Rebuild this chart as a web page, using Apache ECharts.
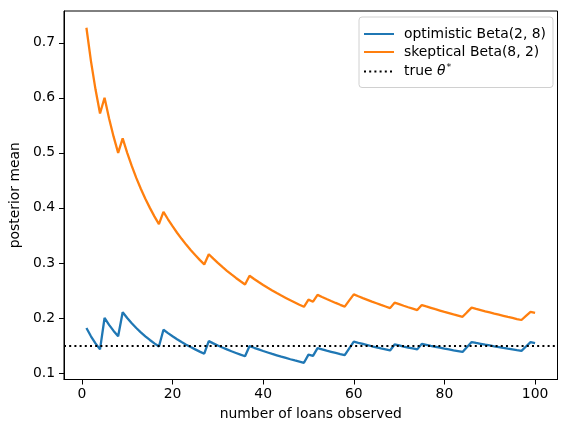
<!DOCTYPE html>
<html><head><meta charset="utf-8">
<script src="https://cdn.jsdelivr.net/npm/echarts@6/dist/echarts.min.js"></script>
<style>html,body{margin:0;padding:0;background:#fff}#c{width:567px;height:433px}</style>
</head><body><div id="c"></div>
<script>
const loans = Array.from({length:100},(_,i)=>i+1);
const optimistic = [
.1818,.1667,.1538,.1429,
.2000,.1875,.1765,.1667,
.2105,.2000,.1905,.1818,.1739,.1667,.1600,.1538,.1481,
.1786,.1724,.1667,.1613,.1563,.1515,.1471,.1429,.1389,.1351,
.1579,.1538,.1500,.1463,.1429,.1395,.1364,.1333,.1304,
.1489,.1458,.1429,.1400,.1373,.1346,.1321,.1296,.1273,.1250,.1228,.1207,.1186,
.1333,.1311,
.1452,.1429,.1406,.1385,.1364,.1343,.1324,
.1449,
.1571,.1549,.1528,.1507,.1486,.1467,.1447,.1429,.1410,
.1519,.1500,.1481,.1463,.1446,.1429,
.1529,.1512,.1494,.1477,.1461,.1444,.1429,.1413,.1398,.1383,
.1474,
.1563,.1546,.1531,.1515,.1500,.1485,.1471,.1456,.1442,.1429,.1415,.1402,
.1481,
.1560,.1545
];
const skeptical = [
.7273,.6667,.6154,.5714,
.6000,.5625,.5294,.5000,
.5263,.5000,.4762,.4545,.4348,.4167,.4000,.3846,.3704,
.3929,.3793,.3667,.3548,.3438,.3333,.3235,.3143,.3056,.2973,
.3158,.3077,.3000,.2927,.2857,.2791,.2727,.2667,.2609,
.2766,.2708,.2653,.2600,.2549,.2500,.2453,.2407,.2364,.2321,.2281,.2241,.2203,
.2333,.2295,
.2419,.2381,.2344,.2308,.2273,.2239,.2206,
.2319,
.2429,.2394,.2361,.2329,.2297,.2267,.2237,.2208,.2179,
.2278,.2250,.2222,.2195,.2169,.2143,
.2235,.2209,.2184,.2159,.2135,.2111,.2088,.2065,.2043,.2021,
.2105,
.2188,.2165,.2143,.2121,.2100,.2079,.2059,.2039,.2019,.2000,.1981,.1963,
.2037,
.2110,.2091
];
const trueTheta = 0.15;
const xTicks = [0,20,40,60,80,100];
const yTicks = [0.1,0.2,0.3,0.4,0.5,0.6,0.7];

const font = 'DejaVu Sans';
const fs = 13.9;
const chart = echarts.init(document.getElementById('c'), null, {renderer:'canvas'});
chart.setOption({
  animation:false,
  backgroundColor:'#fff',
  textStyle:{fontFamily:font},
  grid:{left:62, right:9.5, top:11, bottom:53.5, show:true, borderColor:'#000', borderWidth:1},
  xAxis:{type:'value', min:-3.95, max:104.95,
    name:'number of loans observed', nameLocation:'middle', nameGap:28,
    nameTextStyle:{fontFamily:font, fontSize:fs, color:'#000'},
    axisLine:{show:true, onZero:false, lineStyle:{color:'#000', width:1}}, splitLine:{show:false},
    axisTick:{show:true, inside:false, length:5, lineStyle:{color:'#000', width:1}, customValues:xTicks},
    axisLabel:{fontFamily:font, fontSize:fs, color:'#000', margin:8, customValues:xTicks}},
  yAxis:{type:'value', min:0.0882, max:0.7577,
    name:'posterior mean', nameLocation:'middle', nameGap:33, nameRotate:90,
    nameTextStyle:{fontFamily:font, fontSize:fs, color:'#000'},
    axisLine:{show:true, onZero:false, lineStyle:{color:'#000', width:1}}, splitLine:{show:false},
    axisTick:{show:true, inside:false, length:5, lineStyle:{color:'#000', width:1}, customValues:yTicks},
    axisLabel:{fontFamily:font, fontSize:fs, color:'#000', margin:9, customValues:yTicks,
      formatter:v=>v.toFixed(1)}},
  legend:{orient:'vertical', left:359, top:17, padding:[10,7,9,4], itemGap:4,
    itemWidth:30, itemHeight:16, borderColor:'#d0d0d0', borderWidth:1, borderRadius:3,
    backgroundColor:'rgba(255,255,255,0.8)',
    itemStyle:{opacity:0},
    textStyle:{fontFamily:font, fontSize:fs, color:'#000', padding:[0,0,0,5],
      rich:{i:{fontFamily:font, fontStyle:'italic', fontSize:fs, color:'#000'},
            s:{fontFamily:font, fontSize:9.5, color:'#000', verticalAlign:'top', padding:[0,0,7,1]}}},
    formatter:n=> n==='true' ? 'true {i|θ}{s|*}' : n,
    data:['optimistic Beta(2, 8)','skeptical Beta(8, 2)','true']},
  series:[
    {name:'optimistic Beta(2, 8)', type:'line', symbol:'none', data:loans.map((n,i)=>[n,optimistic[i]]),
      lineStyle:{color:'#1f77b4', width:2.3}, itemStyle:{color:'#1f77b4'}, z:3},
    {name:'skeptical Beta(8, 2)', type:'line', symbol:'none', data:loans.map((n,i)=>[n,skeptical[i]]),
      lineStyle:{color:'#ff7f0e', width:2.3}, itemStyle:{color:'#ff7f0e'}, z:3},
    {name:'true', type:'line', symbol:'none', data:[],
      lineStyle:{color:'#000', width:2, type:[2,3.2]}, itemStyle:{color:'#000'},
      markLine:{silent:true, symbol:'none', label:{show:false},
        lineStyle:{color:'#000', width:2, type:[2,3.2]}, data:[{yAxis:trueTheta}]}}
  ]
});
</script></body></html>
